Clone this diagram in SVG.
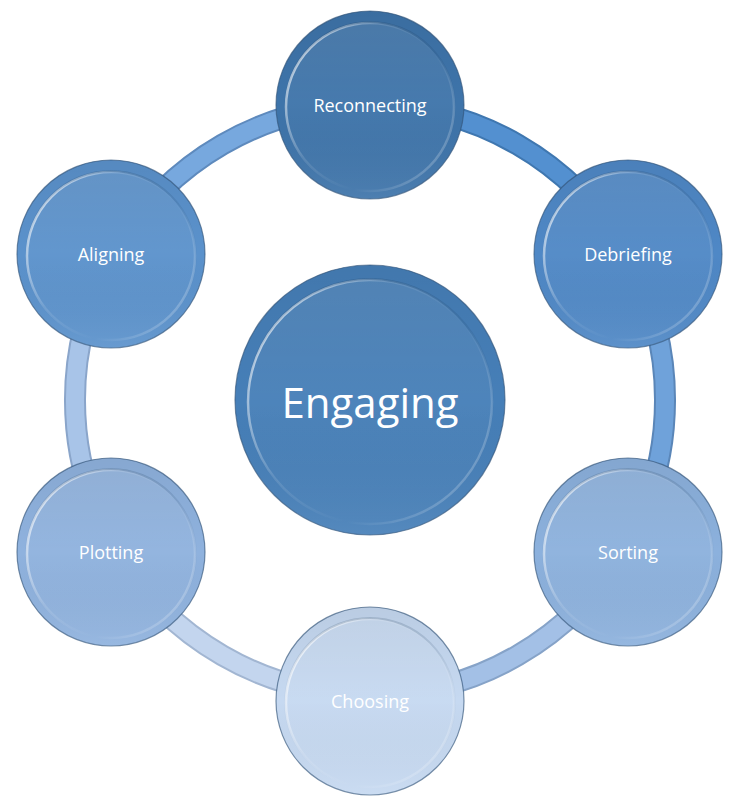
<svg xmlns="http://www.w3.org/2000/svg" width="730" height="796" viewBox="0 0 730 796">
  <defs>
    <linearGradient id="rimShade" x1="0" y1="0" x2="0" y2="1">
      <stop offset="0" stop-color="#000" stop-opacity="0.06"/>
      <stop offset="0.5" stop-color="#000" stop-opacity="0"/>
      <stop offset="1" stop-color="#fff" stop-opacity="0.08"/>
    </linearGradient>
    <linearGradient id="innerFace" x1="0" y1="0" x2="0" y2="1">
      <stop offset="0" stop-color="#fff" stop-opacity="0.08"/>
      <stop offset="1" stop-color="#fff" stop-opacity="0"/>
    </linearGradient>
    <linearGradient id="bevel" x1="0" y1="0.3" x2="1" y2="0.9">
      <stop offset="0" stop-color="#fff" stop-opacity="0.65"/>
      <stop offset="0.3" stop-color="#fff" stop-opacity="0.12"/>
      <stop offset="0.6" stop-color="#fff" stop-opacity="0"/>
      <stop offset="1" stop-color="#fff" stop-opacity="0.3"/>
    </linearGradient>
    <linearGradient id="bevelDark" x1="0" y1="0" x2="0" y2="1">
      <stop offset="0" stop-color="#0a2a4a" stop-opacity="0.18"/>
      <stop offset="0.4" stop-color="#0a2a4a" stop-opacity="0.03"/>
      <stop offset="1" stop-color="#0a2a4a" stop-opacity="0"/>
    </linearGradient>
  </defs>
  <style>
    .edge { fill: none; stroke-width: 22; }
    .edgeIn { fill: none; stroke-width: 18; }
    .rim { stroke: #33557a; stroke-opacity: 0.65; stroke-width: 1.2; }
    .shade { fill: url(#rimShade); }
    .face { fill: url(#innerFace); stroke: url(#bevel); stroke-width: 2.5; }
    .faceDark { fill: none; stroke: url(#bevelDark); stroke-width: 2; }
    .lbl { font-family: "Open Sans", "Liberation Sans", sans-serif; fill: #ffffff; text-anchor: middle; }
    .small { font-size: 18px; }
    .big { font-size: 42px; }
  </style>

  <g id="connectors">
    <path class="edge" stroke="#3f77b0" d="M 370 105 A 295 295 0 0 1 625.5 252.5"/>
    <path class="edgeIn" stroke="#5390d0" d="M 370 105 A 295 295 0 0 1 625.5 252.5"/>
    <path class="edge" stroke="#5a86b8" d="M 625.5 252.5 A 295 295 0 0 1 625.5 547.5"/>
    <path class="edgeIn" stroke="#6fa2da" d="M 625.5 252.5 A 295 295 0 0 1 625.5 547.5"/>
    <path class="edge" stroke="#86a3c8" d="M 625.5 547.5 A 295 295 0 0 1 370 695"/>
    <path class="edgeIn" stroke="#a3c0e6" d="M 625.5 547.5 A 295 295 0 0 1 370 695"/>
    <path class="edge" stroke="#a2b6d2" d="M 370 695 A 295 295 0 0 1 114.5 547.5"/>
    <path class="edgeIn" stroke="#c3d5ee" d="M 370 695 A 295 295 0 0 1 114.5 547.5"/>
    <path class="edge" stroke="#8aa5ca" d="M 114.5 547.5 A 295 295 0 0 1 114.5 252.5"/>
    <path class="edgeIn" stroke="#a8c4e8" d="M 114.5 547.5 A 295 295 0 0 1 114.5 252.5"/>
    <path class="edge" stroke="#5e8abd" d="M 114.5 252.5 A 295 295 0 0 1 370 105"/>
    <path class="edgeIn" stroke="#77a8de" d="M 114.5 252.5 A 295 295 0 0 1 370 105"/>
  </g>

  <g id="engaging">
    <circle class="rim" cx="370" cy="400" r="135" fill="#467fb8"/>
    <circle class="shade" cx="370" cy="400" r="135"/>
    <circle class="face" cx="370" cy="402" r="122"/>
    <circle class="faceDark" cx="370" cy="402" r="123"/>
    <text class="lbl big" x="370" y="418">Engaging</text>
  </g>

  <g id="reconnecting">
    <circle class="rim" cx="370" cy="105" r="94" fill="#3e74aa"/>
    <circle class="shade" cx="370" cy="105" r="94"/>
    <circle class="face" cx="370" cy="107" r="84"/>
    <circle class="faceDark" cx="370" cy="107" r="85"/>
    <text class="lbl small" x="370" y="112">Reconnecting</text>
  </g>

  <g id="debriefing">
    <circle class="rim" cx="628" cy="254" r="94" fill="#4f88c6"/>
    <circle class="shade" cx="628" cy="254" r="94"/>
    <circle class="face" cx="628" cy="256" r="84"/>
    <circle class="faceDark" cx="628" cy="256" r="85"/>
    <text class="lbl small" x="628" y="261">Debriefing</text>
  </g>

  <g id="sorting">
    <circle class="rim" cx="628" cy="552" r="94" fill="#8cb1dd"/>
    <circle class="shade" cx="628" cy="552" r="94"/>
    <circle class="face" cx="628" cy="554" r="84"/>
    <circle class="faceDark" cx="628" cy="554" r="85"/>
    <text class="lbl small" x="628" y="559">Sorting</text>
  </g>

  <g id="choosing">
    <circle class="rim" cx="370" cy="701" r="94" fill="#c6d9f1"/>
    <circle class="shade" cx="370" cy="701" r="94"/>
    <circle class="face" cx="370" cy="703" r="84"/>
    <circle class="faceDark" cx="370" cy="703" r="85"/>
    <text class="lbl small" x="370" y="708">Choosing</text>
  </g>

  <g id="plotting">
    <circle class="rim" cx="111" cy="552" r="94" fill="#8fb2de"/>
    <circle class="shade" cx="111" cy="552" r="94"/>
    <circle class="face" cx="111" cy="554" r="84"/>
    <circle class="faceDark" cx="111" cy="554" r="85"/>
    <text class="lbl small" x="111" y="559">Plotting</text>
  </g>

  <g id="aligning">
    <circle class="rim" cx="111" cy="254" r="94" fill="#5b92cc"/>
    <circle class="shade" cx="111" cy="254" r="94"/>
    <circle class="face" cx="111" cy="256" r="84"/>
    <circle class="faceDark" cx="111" cy="256" r="85"/>
    <text class="lbl small" x="111" y="261">Aligning</text>
  </g>
</svg>
